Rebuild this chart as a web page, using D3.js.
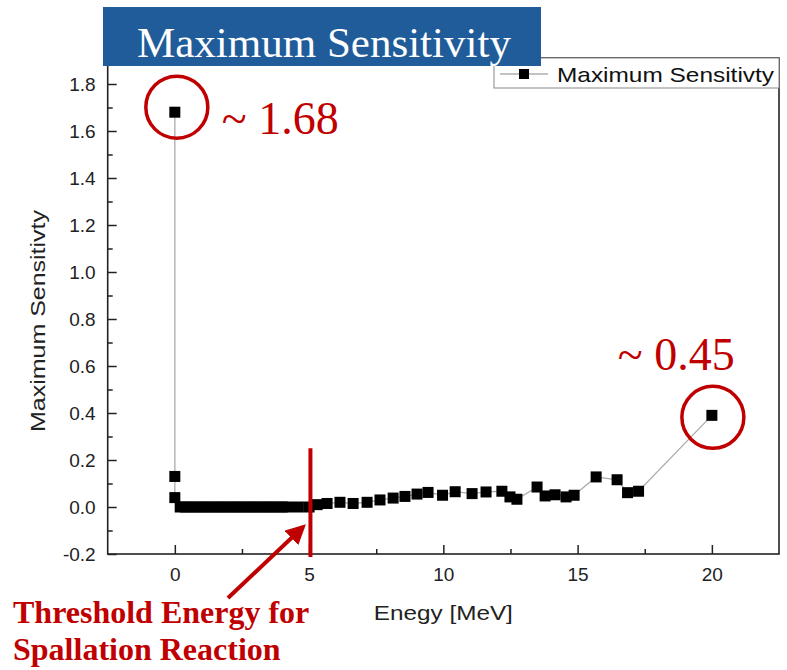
<!DOCTYPE html>
<html><head><meta charset="utf-8">
<script src="https://cdn.jsdelivr.net/npm/d3@7"></script>
<style>body{margin:0;background:#fff}</style>
</head><body><svg id="c" width="787" height="670"></svg>
<script>
// ---- data ----
const energy = [0, 0, 0, 0.2, 0.4, 0.6, 0.8, 1.0, 1.2, 1.4, 1.6, 1.8, 2.0, 2.2, 2.4, 2.6, 2.8, 3.0, 3.2, 3.4, 3.6, 3.8, 4.0, 4.2, 4.6, 5.0,
  5.3, 5.67, 6.15, 6.64, 7.16, 7.64, 8.13, 8.57, 9.02, 9.43, 9.97, 10.44, 11.07, 11.59, 12.18, 12.48, 12.74,
  13.49, 13.79, 14.16, 14.57, 14.87, 15.69, 16.47, 16.86, 17.27, 20.0];
const sensitivity = [1.68, 0.13, 0.04, 0, 0, 0, 0, 0, 0, 0, 0, 0, 0, 0, 0, 0, 0, 0, 0, 0, 0, 0, 0, 0, 0, 0,
  0.01, 0.015, 0.02, 0.015, 0.02, 0.03, 0.038, 0.045, 0.055, 0.062, 0.05, 0.065, 0.057, 0.064, 0.067, 0.043, 0.033,
  0.085, 0.047, 0.052, 0.043, 0.05, 0.128, 0.116, 0.061, 0.067, 0.39];
const xMajorTicks = [0, 5, 10, 15, 20];
const xMinorTicks = [2.5, 7.5, 12.5, 17.5];
const yMajorTicks = [-0.2, 0, 0.2, 0.4, 0.6, 0.8, 1.0, 1.2, 1.4, 1.6, 1.8];
const yMinorTicks = [-0.1, 0.1, 0.3, 0.5, 0.7, 0.9, 1.1, 1.3, 1.5, 1.7];
const titleText = "Maximum Sensitivity";
const seriesName = "Maximum Sensitivty";
const xLabel = "Enegy [MeV]";
const yLabel = "Maximum Sensitivty";
const peakLabels = ["~ 1.68", "~ 0.45"];
const thresholdEnergy = 5.05;
const thresholdText = ["Threshold Energy for", "Spallation Reaction"];

// ---- chart ----
const svg = d3.select("#c");
const L = 107.7, R = 779, B = 554;
const x = d3.scaleLinear().domain([-2.5, 22.5]).range([L, R]);
const y = d3.scaleLinear().domain([-0.2, 1.8]).range([B, 84]);
const T = 58;
const red = "#c00000";
const sans = "'Liberation Sans', Arial, sans-serif";
const serif = "'Liberation Serif', 'Times New Roman', serif";

// x axis
const xAx = svg.append("g").attr("transform", `translate(0,${B})`)
  .call(d3.axisBottom(x).tickValues(xMajorTicks).tickSizeInner(-9).tickSizeOuter(0).tickPadding(14).tickFormat(d => String(d)));
xAx.select(".domain").remove();
svg.append("g").attr("transform", `translate(0,${B})`)
  .call(d3.axisBottom(x).tickValues(xMinorTicks).tickSizeInner(-5).tickSizeOuter(0).tickFormat(""))
  .select(".domain").remove();
// y axis
const yAx = svg.append("g").attr("transform", `translate(${L},0)`)
  .call(d3.axisLeft(y).tickValues(yMajorTicks).tickSizeInner(-9).tickSizeOuter(0).tickPadding(12).tickFormat(d => d.toFixed(1)));
yAx.select(".domain").remove();
svg.append("g").attr("transform", `translate(${L},0)`)
  .call(d3.axisLeft(y).tickValues(yMinorTicks).tickSizeInner(-5).tickSizeOuter(0).tickFormat(""))
  .select(".domain").remove();
svg.selectAll(".tick line").attr("stroke", "#222").attr("stroke-width", 1.5);
svg.selectAll(".tick text").attr("font-family", sans).attr("font-size", 19).attr("fill", "#222");

// frame
svg.append("rect").attr("x", L).attr("y", T).attr("width", R - L).attr("height", B - T)
  .attr("fill", "none").attr("stroke", "#222").attr("stroke-width", 1.6);

// axis labels
svg.append("text").attr("x", x(10)).attr("y", 620).attr("text-anchor", "middle")
  .attr("font-family", sans).attr("font-size", 21).attr("fill", "#222")
  .attr("textLength", 139).attr("lengthAdjust", "spacingAndGlyphs").text(xLabel);
svg.append("text").attr("transform", `translate(45,321) rotate(-90)`).attr("text-anchor", "middle")
  .attr("font-family", sans).attr("font-size", 21).attr("fill", "#222")
  .attr("textLength", 222).attr("lengthAdjust", "spacingAndGlyphs").text(yLabel);

// data line + markers
const pts = energy.map((e, i) => [e, sensitivity[i]]);
svg.append("path").datum(pts)
  .attr("d", d3.line().x(d => x(d[0])).y(d => y(d[1])))
  .attr("fill", "none").attr("stroke", "#aaa").attr("stroke-width", 1.3);
const ms = 11;
svg.append("g").selectAll("rect").data(pts).join("rect")
  .attr("x", d => x(d[0]) - ms / 2).attr("y", d => y(d[1]) - ms / 2)
  .attr("width", ms).attr("height", ms).attr("fill", "#000");

// legend
const lg = svg.append("g");
lg.append("rect").attr("x", 494).attr("y", 58).attr("width", 285).attr("height", 30)
  .attr("fill", "#fff").attr("stroke", "#888").attr("stroke-width", 1);
lg.append("line").attr("x1", 500).attr("x2", 548).attr("y1", 74).attr("y2", 74).attr("stroke", "#888").attr("stroke-width", 1.2);
lg.append("rect").attr("x", 519).attr("y", 69).attr("width", 10).attr("height", 10).attr("fill", "#000");
lg.append("text").attr("x", 557).attr("y", 82).attr("font-family", sans).attr("font-size", 21).attr("fill", "#111")
  .attr("textLength", 217).attr("lengthAdjust", "spacingAndGlyphs").text(seriesName);

// title box
svg.append("rect").attr("x", 103).attr("y", 7).attr("width", 438).attr("height", 59).attr("fill", "#1f5c99");
svg.append("text").attr("x", 137).attr("y", 57).attr("font-family", serif).attr("font-size", 43).attr("fill", "#fff").text(titleText);

// threshold line
svg.append("line").attr("x1", x(thresholdEnergy)).attr("x2", x(thresholdEnergy))
  .attr("y1", y(0.25)).attr("y2", y(-0.2) + 3).attr("stroke", red).attr("stroke-width", 4);

// circles + labels
const p0 = [x(energy[0]) + 2, y(sensitivity[0]) - 5];
const pN = [x(energy[energy.length - 1]) + 1, y(sensitivity[sensitivity.length - 1]) + 2];
[p0, pN].forEach(p => svg.append("circle").attr("cx", p[0]).attr("cy", p[1]).attr("r", 31)
  .attr("fill", "none").attr("stroke", red).attr("stroke-width", 3.5));
svg.append("text").attr("x", p0[0] + 45).attr("y", p0[1] + 27).attr("font-family", serif).attr("font-size", 46).attr("fill", red).text(peakLabels[0]);
svg.append("text").attr("x", pN[0] - 95).attr("y", pN[1] - 47).attr("font-family", serif).attr("font-size", 46).attr("fill", red).text(peakLabels[1]);

// arrow
svg.append("defs").append("marker").attr("id", "ah").attr("viewBox", "0 0 10 10")
  .attr("refX", 8).attr("refY", 5).attr("markerWidth", 5).attr("markerHeight", 5).attr("orient", "auto")
  .append("path").attr("d", "M0,0 L10,5 L0,10 z").attr("fill", red);
svg.append("line").attr("x1", 228).attr("y1", 598).attr("x2", 303).attr("y2", 527)
  .attr("stroke", red).attr("stroke-width", 4).attr("marker-end", "url(#ah)");
thresholdText.forEach((t, i) => svg.append("text").attr("x", 13).attr("y", 623 + i * 37)
  .attr("font-family", serif).attr("font-weight", "bold").attr("font-size", 32).attr("fill", red).text(t));
</script></body></html>
